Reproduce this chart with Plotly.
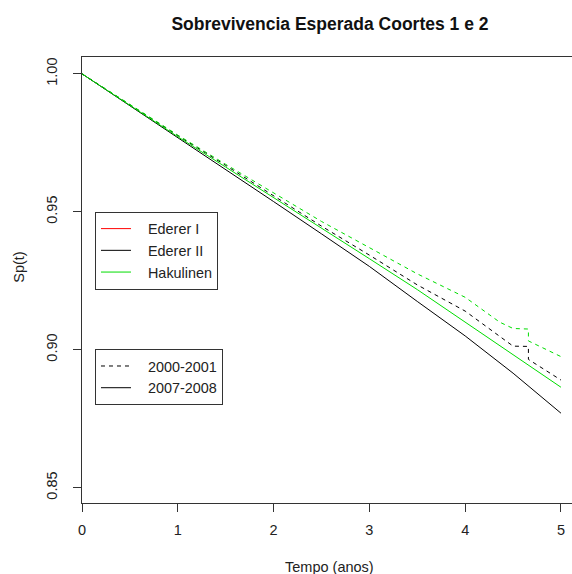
import plotly.graph_objects as go

# ---- data ----
# (Ederer I coincides with Hakulinen and is fully hidden under the green curves in the reference)
tempo_0708 = [0, 0.5, 1, 1.5, 2, 2.5, 3, 3.5, 4, 4.5, 5]
ederer2_0708 = [1.000, 0.9885, 0.9770, 0.9655, 0.9537, 0.9420, 0.9302, 0.9175, 0.9050, 0.8915, 0.8770]
hakulinen_0708 = [1.000, 0.9885, 0.9772, 0.9662, 0.9552, 0.9442, 0.9330, 0.9218, 0.9100, 0.8985, 0.8864]

tempo_0001 = [0, 0.5, 1, 1.5, 2, 2.5, 3, 3.5, 4, 4.36, 4.5, 4.66, 4.66, 5]
ederer2_0001 = [1.000, 0.9887, 0.9776, 0.9668, 0.9558, 0.9448, 0.9343, 0.9235, 0.9140, 0.9048, 0.9013, 0.9012, 0.8965, 0.8890]
hakulinen_0001 = [1.000, 0.9888, 0.9778, 0.9672, 0.9568, 0.9465, 0.9370, 0.9275, 0.9190, 0.9100, 0.9077, 0.9075, 0.9032, 0.8975]

metodos = ["Ederer I", "Ederer II", "Hakulinen"]
coortes = ["2000-2001", "2007-2008"]
x_ticks = [0, 1, 2, 3, 4, 5]
y_ticks = [0.85, 0.90, 0.95, 1.00]
y_ticktext = ["0.85", "0.90", "0.95", "1.00"]

RED = "#FF0000"
BLACK = "#000000"
GREEN = "#00DD00"
FONT = "Liberation Sans, Arial, sans-serif"
DASH = "4px,4px"
PAD = "\u00a0\u00a0\u00a0"

fig = go.Figure()

# legend entry for Ederer I (its curves lie under Hakulinen)
fig.add_trace(go.Scatter(x=[None], y=[None], mode="lines", name=PAD + metodos[0],
                         line=dict(color=RED, width=1), showlegend=True, legend="legend"))

# dashed cohort 2000-2001
for ys, col in [(ederer2_0001, BLACK), (hakulinen_0001, GREEN)]:
    fig.add_trace(go.Scatter(x=tempo_0001, y=ys, mode="lines",
                             line=dict(color=col, width=1, dash=DASH),
                             showlegend=False, hoverinfo="skip"))
# solid cohort 2007-2008 (also legend 1 entries)
for ys, col, name in [(ederer2_0708, BLACK, metodos[1]), (hakulinen_0708, GREEN, metodos[2])]:
    fig.add_trace(go.Scatter(x=tempo_0708, y=ys, mode="lines", name=PAD + name,
                             line=dict(color=col, width=1),
                             showlegend=True, legend="legend"))
# legend 2 entries (line types)
for name, dash in [(coortes[0], DASH), (coortes[1], "solid")]:
    fig.add_trace(go.Scatter(x=[None], y=[None], mode="lines", name=PAD + name,
                             line=dict(color=BLACK, width=1, dash=dash),
                             showlegend=True, legend="legend2"))

axis_common = dict(showgrid=False, zeroline=False, showline=True, linecolor="#333333",
                   linewidth=1, ticks="outside", ticklen=8, tickcolor="#333333",
                   tickfont=dict(family=FONT, size=14.5, color="#222222"))

fig.update_layout(
    width=572, height=574,
    margin=dict(l=82, r=0, t=57, b=71),
    paper_bgcolor="white", plot_bgcolor="white",
    font=dict(family=FONT, size=14.5, color="#222222"),
    title=dict(text="<b>Sobrevivencia Esperada Coortes 1 e 2</b>",
               font=dict(family=FONT, size=17.5, color="#111111"),
               x=0.506, xref="paper", xanchor="center", y=0.958, yref="container", yanchor="middle"),
    xaxis=dict(range=[0, 5.115], tickvals=x_ticks, mirror=True, ticklabelstandoff=6, **axis_common),
    yaxis=dict(range=[0.84445, 1.0061], tickvals=y_ticks, ticktext=y_ticktext, tickangle=-90,
               ticklabelstandoff=10, **axis_common),
    legend=dict(x=0.0265, y=0.653, xanchor="left", yanchor="top", bgcolor="white",
                bordercolor="#333333", borderwidth=1, font=dict(family=FONT, size=14.4, color="#222222"),
                tracegroupgap=0, itemwidth=30, traceorder="normal"),
    legend2=dict(x=0.0265, y=0.345, xanchor="left", yanchor="top", bgcolor="white",
                 bordercolor="#333333", borderwidth=1, font=dict(family=FONT, size=14.4, color="#222222"),
                 tracegroupgap=0, itemwidth=30),
    annotations=[
        dict(text="Tempo (anos)", xref="paper", yref="paper", x=0.506, y=0, yanchor="middle",
             yshift=-64, showarrow=False, font=dict(family=FONT, size=14.5, color="#222222")),
        dict(text="Sp(t)", xref="paper", yref="paper", x=0, y=(503 - 268) / 445.5, xanchor="center",
             yanchor="middle", xshift=-63, textangle=-90, showarrow=False,
             font=dict(family=FONT, size=14.5, color="#222222")),
    ],
)

fig.write_html("out.html")
